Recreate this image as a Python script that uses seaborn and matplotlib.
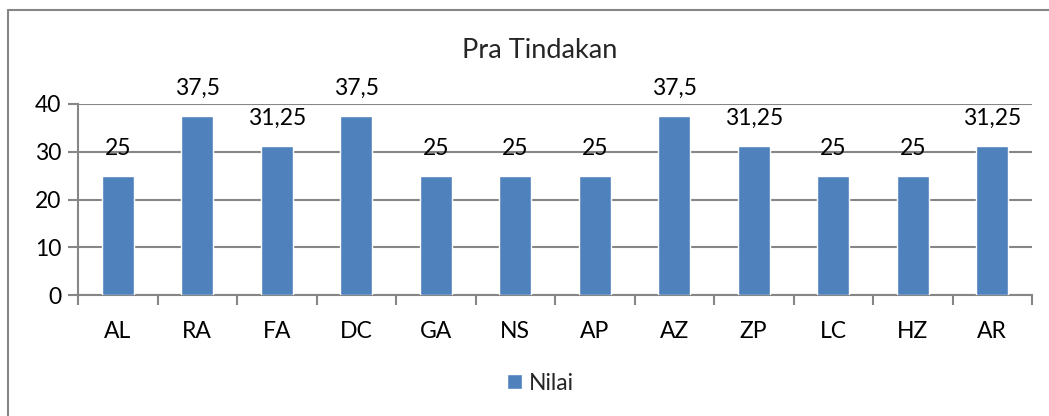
import matplotlib
matplotlib.use("Agg")
import matplotlib.pyplot as plt
from matplotlib.lines import Line2D
import seaborn as sns
import pandas as pd

# data
students = ['AL', 'RA', 'FA', 'DC', 'GA', 'NS', 'AP', 'AZ', 'ZP', 'LC', 'HZ', 'AR']
nilai = [25, 37.5, 31.25, 37.5, 25, 25, 25, 37.5, 31.25, 25, 25, 31.25]
y_ticks = [0, 10, 20, 30, 40]

sns.set_style("white")
plt.rcParams['font.family'] = ['Lato', 'DejaVu Sans']

df = pd.DataFrame({'Siswa': students, 'Nilai': nilai})

fig = plt.figure(figsize=(10.49, 4.16), dpi=100)
ax = fig.add_axes([78 / 1049, 1 - 295 / 416, (1032 - 78) / 1049, (295 - 104) / 416])

grid_col = '#868686'
bar_col = '#4F81BD'
fs = 16.5

sns.barplot(data=df, x='Siswa', y='Nilai', color=bar_col, width=0.4,
            saturation=1, ax=ax, label='Nilai', zorder=3)

ax.set_ylim(0, 40)
ax.set_xlim(-0.5, len(students) - 0.5)
ax.set_yticks(y_ticks)
ax.yaxis.grid(True, color=grid_col, linewidth=1.5, zorder=0)
ax.set_axisbelow(True)
ax.set_xlabel('')
ax.set_ylabel('')

for side in ['top', 'right']:
    ax.spines[side].set_visible(False)
for side in ['left', 'bottom']:
    ax.spines[side].set_color(grid_col)
    ax.spines[side].set_linewidth(1.5)

ax.tick_params(axis='y', length=7, width=1.5, color=grid_col, labelsize=fs, pad=5,
               left=True, labelcolor='black')
ax.set_xticks(range(len(students)))
ax.set_xticklabels(students)
ax.tick_params(axis='x', which='major', length=0, labelsize=fs, pad=19, labelcolor='black')
ax.set_xticks([i - 0.5 for i in range(len(students) + 1)], minor=True)
ax.tick_params(axis='x', which='minor', length=7, width=1.5, color=grid_col, bottom=True)

labels = [f"{v:g}".replace('.', ',') for v in nilai]
ax.bar_label(ax.containers[0], labels=labels, padding=12, fontsize=fs, color='black')

fig.text(540 / 1049, 1 - 50 / 416, 'Pra Tindakan', ha='center', va='center', fontsize=19.5)

ax.legend(loc='center', bbox_to_anchor=(540 / 1049, 1 - 383 / 416),
          bbox_transform=fig.transFigure, frameon=False, fontsize=fs,
          handlelength=0.65, handleheight=0.65, handletextpad=0.3)

# outer chart border
fig.add_artist(Line2D([8 / 1049, 8 / 1049], [0, 1 - 10 / 416], color=grid_col, linewidth=1.5))
fig.add_artist(Line2D([8 / 1049, 1], [1 - 10 / 416, 1 - 10 / 416], color=grid_col, linewidth=1.5))

fig.savefig('out.png', dpi=100)
